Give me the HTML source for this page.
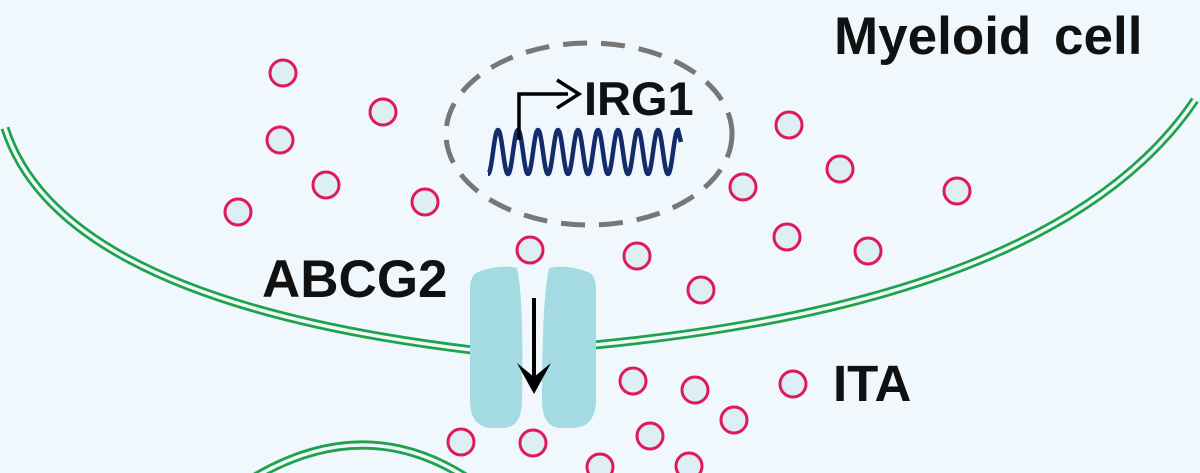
<!DOCTYPE html>
<html><head><style>
html,body{margin:0;padding:0;background:#f0f8fd;}
svg{display:block;}
text{font-family:"Liberation Sans",Arial,sans-serif;font-weight:bold;fill:#111;}
</style></head><body>
<svg width="1200" height="473" viewBox="0 0 1200 473" xmlns="http://www.w3.org/2000/svg">
<rect width="1200" height="473" fill="#f0f8fd"/>
<g fill="none" stroke-linecap="butt">
  <g stroke="#1fa34a" stroke-width="9">
    <path d="M5,128 Q60,300 472,350"/>
    <path d="M594,345 Q1060,300 1195,100"/>
    <path d="M250,480 Q365,410 470,480"/>
  </g>
  <g stroke="#f0f8fd" stroke-width="3.5">
    <path d="M5,128 Q60,300 472,350"/>
    <path d="M594,345 Q1060,300 1195,100"/>
    <path d="M250,480 Q365,410 470,480"/>
  </g>
</g>
<ellipse cx="589" cy="134" rx="143" ry="91" fill="none" stroke="#777" stroke-width="5" stroke-dasharray="24,14"/>
<g fill="#ddeef5" stroke="#e0195a" stroke-width="3">
<circle cx="283" cy="73" r="13"/><circle cx="383" cy="112" r="13"/><circle cx="280" cy="140" r="13"/>
<circle cx="326" cy="185" r="13"/><circle cx="238" cy="212" r="13"/><circle cx="425" cy="202" r="13"/>
<circle cx="530" cy="250" r="13"/><circle cx="637" cy="256" r="13"/><circle cx="701" cy="290" r="13"/>
<circle cx="789" cy="125" r="13"/><circle cx="840" cy="169" r="13"/><circle cx="957" cy="191" r="13"/>
<circle cx="743" cy="187" r="13"/><circle cx="787" cy="237" r="13"/><circle cx="868" cy="251" r="13"/>
<circle cx="633" cy="381" r="13"/><circle cx="695" cy="390" r="13"/><circle cx="793" cy="384" r="13"/>
<circle cx="734" cy="420" r="13"/><circle cx="650" cy="436" r="13"/><circle cx="461" cy="442" r="13"/>
<circle cx="533" cy="443" r="13"/><circle cx="600" cy="467" r="13"/><circle cx="689" cy="466" r="13"/>
</g>
<path d="M478,272 Q500,264 517,268 Q524,300 522,400 Q522,426 505,428 L490,428 Q470,426 470,400 L470,290 Q470,275 478,272 Z" fill="#a4dbe2"/>
<path d="M588,272 Q566,264 549,268 Q542,300 542,400 Q542,426 559,428 L574,428 Q596,426 596,400 L596,290 Q596,275 588,272 Z" fill="#a4dbe2"/>
<line x1="534" y1="298" x2="534" y2="388" stroke="#000" stroke-width="4"/>
<path d="M517,363 L534,394 L551,363 L534,377 Z" fill="#000"/>
<path d="M488,174 C492,174 494,130 498,130 C502,130 504,174 508,174 C512,174 514,130 518,130 C522,130 524,174 528,174 C532,174 534,130 538,130 C542,130 544,174 548,174 C552,174 554,130 558,130 C562,130 564,174 568,174 C572,174 574,130 578,130 C582,130 584,174 588,174 C592,174 594,130 598,130 C602,130 604,174 608,174 C612,174 614,130 618,130 C622,130 624,174 628,174 C632,174 634,130 638,130 C642,130 644,174 648,174 C652,174 654,130 658,130 C662,130 664,174 668,174 C672,174 674,130 678,130 L681,142" fill="none" stroke="#132a6b" stroke-width="4.5"/>
<path d="M519,140 L519,94 L568,94" fill="none" stroke="#000" stroke-width="3.5"/>
<path d="M557,80 L579,94 L557,108" fill="none" stroke="#000" stroke-width="3.5"/>
<text x="584" y="115" font-size="47">IRG1</text>
<text x="834" y="54" font-size="53" word-spacing="8">Myeloid cell</text>
<text x="262" y="297" font-size="53">ABCG2</text>
<text x="833" y="401" font-size="51">ITA</text>
</svg>
</body></html>
